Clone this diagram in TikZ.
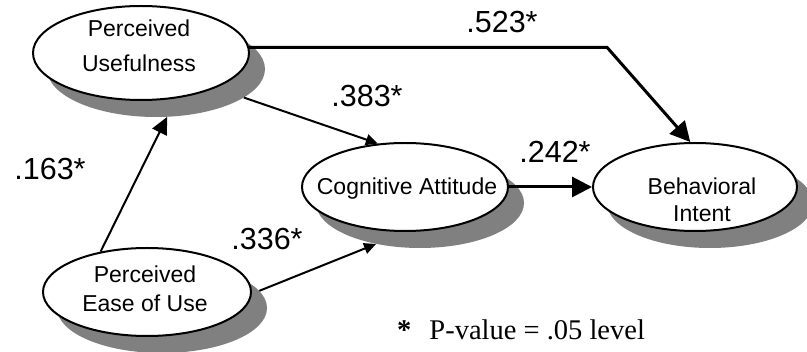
\documentclass[tikz,border=0pt]{standalone}
\usepackage{fontspec}
\setmainfont{Liberation Sans}
\newfontfamily\serifnote{Liberation Serif}
\usetikzlibrary{arrows.meta,shapes.geometric}
\definecolor{shadowgray}{HTML}{808080}
\begin{document}
\begin{tikzpicture}[x=1pt,y=-1pt,
  ell/.style={ellipse, draw=black, fill=white, line width=2pt, inner sep=0pt},
  shad/.style={ellipse, fill=shadowgray, draw=none, inner sep=0pt},
  lbl/.style={font=\fontsize{23}{27}\selectfont, align=center, inner sep=0pt},
  coef/.style={font=\fontsize{30.5}{34}\selectfont, inner sep=0pt, anchor=base},
  bigarrow/.style={line width=3pt, -{Triangle[length=20pt,width=20pt]}},
  midarrow/.style={line width=2pt, -{Triangle[length=17pt,width=16pt]}},
  smallarrow/.style={line width=2pt, -{Triangle[length=12pt,width=11pt]}}
]
\useasboundingbox (0,0) rectangle (807,352);
% shadows
\node[shad, minimum width=218pt, minimum height=96pt] (pus) at (156,69) {};
\node[shad, minimum width=208pt, minimum height=90pt] (cas) at (420,203) {};
\node[shad, minimum width=206pt, minimum height=90pt] (bis) at (710,203) {};
\node[shad, minimum width=210pt, minimum height=90pt] (peus) at (162,308) {};
% ellipses
\node[ell, minimum width=216pt, minimum height=94pt] (pu) at (141,53) {};
\node[ell, minimum width=206pt, minimum height=88pt] (ca) at (405,187) {};
\node[ell, minimum width=204pt, minimum height=88pt] (bi) at (695,187) {};
\node[ell, minimum width=208pt, minimum height=88pt] (peu) at (147,292) {};
% texts
\node[lbl, font=\fontsize{23}{35}\selectfont] (putxt) at (139,46) {Perceived\\Usefulness};
\node[lbl, anchor=base] (catxt) at (407,195) {Cognitive Attitude};
\node[lbl, font=\fontsize{23}{27}\selectfont] (bitxt) at (702,200) {Behavioral\\Intent};
\node[lbl, font=\fontsize{23}{29}\selectfont] (peutxt) at (145,289) {Perceived\\Ease of Use};
% connectors
\coordinate (bend) at (607,48);
\draw[bigarrow] (pu.3) -- (pu.3 -| bend) -- (bi.96);
\draw[smallarrow] (pus.-18) -- (ca.122);
\draw[bigarrow] (ca.east) -- (bi.west);
\draw[midarrow] (peu.139.6) -- (pus.-77);
\draw[smallarrow] (peus.10) -- (cas.223);
% coefficients
\node[coef] (c523) at (502,33) {.523*};
\node[coef] (c383) at (367,107) {.383*};
\node[coef] (c242) at (555,163) {.242*};
\node[coef] (c163) at (50,180) {.163*};
\node[coef] (c336) at (267,250) {.336*};
% note
\node[font=\serifnote\fontsize{28.5}{32}\selectfont, anchor=base west, inner sep=0pt] (note) at (397,340) {\textbf{*}\hspace{18pt}P-value = .05 level};
\end{tikzpicture}
\end{document}
